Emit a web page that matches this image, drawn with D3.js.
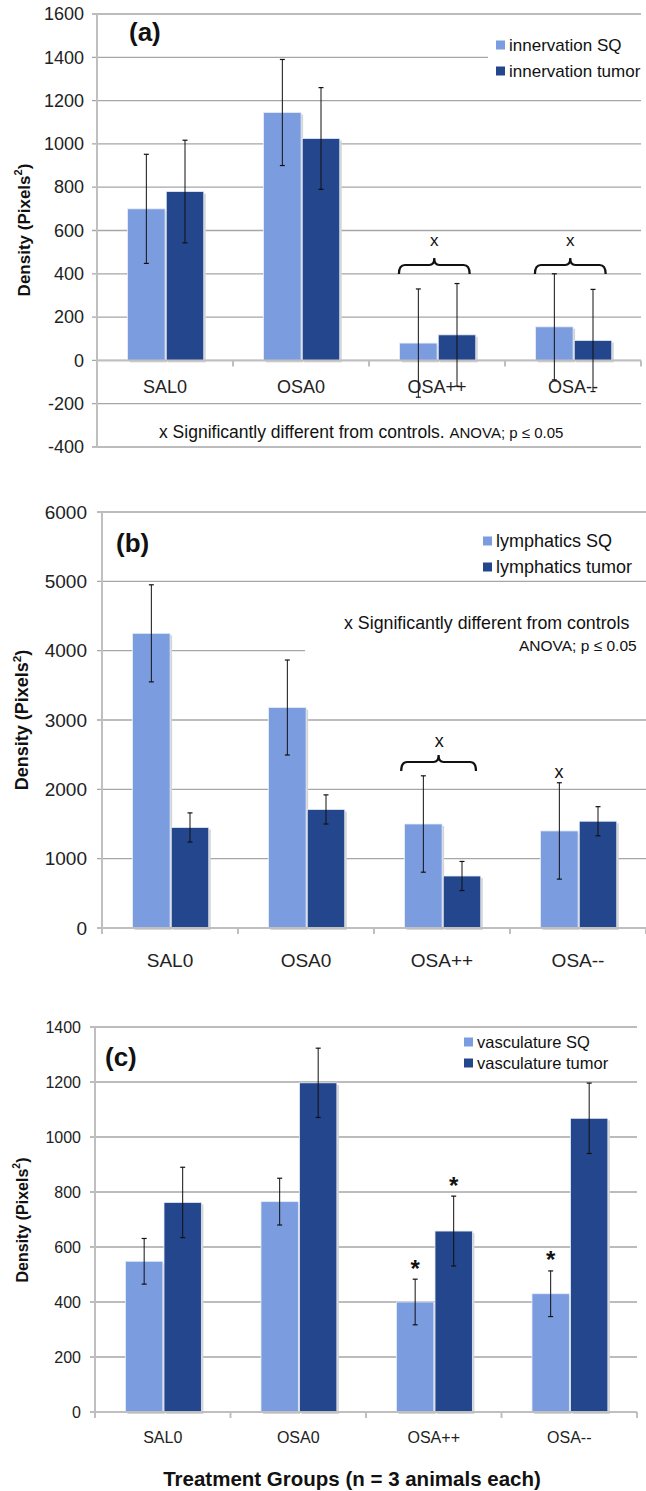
<head>
<meta charset="utf-8">
<style> body { margin: 0; background: #fff; } text { font-family: "Liberation Sans", Arial, sans-serif; } </style>
<script src="https://d3js.org/d3.v7.min.js"></script>
</head>
<body>
<div id="chart"></div>
<script>

var groups = ["SAL0", "OSA0", "OSA++", "OSA--"];

// (a) innervation
var innervSQ = [700, 1145, 80, 155],
    innervSQErr = [252, 245, 250, 245],
    innervTumor = [780, 1025, 118, 92],
    innervTumorErr = [237, 235, 237, 236];
var aTicks = [-400, -200, 0, 200, 400, 600, 800, 1000, 1200, 1400, 1600];

// (b) lymphatics
var lymphSQ = [4250, 3180, 1500, 1400],
    lymphSQErr = [700, 685, 695, 695],
    lymphTumor = [1450, 1710, 750, 1540],
    lymphTumorErr = [210, 210, 210, 210];
var bTicks = [0, 1000, 2000, 3000, 4000, 5000, 6000];

// (c) vasculature
var vascSQ = [548, 765, 400, 430],
    vascSQErr = [83, 85, 83, 83],
    vascTumor = [762, 1197, 658, 1068],
    vascTumorErr = [128, 126, 127, 128];
var cTicks = [0, 200, 400, 600, 800, 1000, 1200, 1400];

var colLight = "#7b9de0",
    colDark = "#24468c",
    gridCol = "#a6a6a6",
    axisCol = "#bfbfbf";

var W = 646, H = 1491;

var svg = d3.select("#chart").append("svg")
    .attr("width", W)
    .attr("height", H);

function drawPanel(p) {

    var g = svg.append("g");

    var x = d3.scaleBand().domain(groups).range([p.left, p.right]);
    var bw = x.bandwidth();
    var x1 = d3.scaleBand().domain([0, 1])
        .range([bw * 0.225, bw * 0.785]).paddingInner(0.03);

    var y = d3.scaleLinear().domain(p.domain).range(p.range);

    // grid
    g.append("g").selectAll("line")
        .data(p.ticks)
        .enter().append("line")
        .attr("x1", p.left - 5)
        .attr("x2", p.right)
        .attr("y1", d => y(d)).attr("y2", d => y(d))
        .attr("stroke", gridCol)
        .attr("stroke-width", 1.3);

    // white boxes covering the grid (legend / note)
    p.boxes.forEach(function(b) {
        g.append("rect")
            .attr("x", b[0]).attr("y", b[1])
            .attr("width", b[2]).attr("height", b[3])
            .attr("fill", "#fff");
    });

    // y axis
    var yax = g.append("g")
        .attr("transform", "translate(" + p.left + ",0)")
        .call(d3.axisLeft(y).tickValues(p.ticks).tickSize(0)
            .tickPadding(p.left - p.labelRight)
            .tickFormat(d => String(d)));
    yax.select("path").remove();
    yax.selectAll("text")
        .attr("font-size", p.tickFont)
        .attr("fill", "#222")
        .style("font-family", "Liberation Sans, Arial, sans-serif");

    g.append("line")
        .attr("x1", p.left).attr("x2", p.left)
        .attr("y1", p.range[1]).attr("y2", p.range[0])
        .attr("stroke", axisCol).attr("stroke-width", 2);

    var series = [
        {vals: p.sq, err: p.sqErr, col: colLight},
        {vals: p.tumor, err: p.tumorErr, col: colDark}
    ];

    // bars
    series.forEach(function(s, si) {
        var bars = g.append("g");
        bars.selectAll("rect.shadow")
            .data(s.vals)
            .enter().append("rect")
            .attr("class", "shadow")
            .attr("x", (d, i) => x(groups[i]) + x1(si) + 2)
            .attr("y", d => y(d) + 2)
            .attr("width", x1.bandwidth())
            .attr("height", d => y(0) - y(d))
            .attr("fill", "#d4d4d4");
        bars.selectAll("rect.bar")
            .data(s.vals)
            .enter().append("rect")
            .attr("class", "bar")
            .attr("x", (d, i) => x(groups[i]) + x1(si))
            .attr("y", d => y(d))
            .attr("width", x1.bandwidth())
            .attr("height", d => y(0) - y(d))
            .attr("fill", s.col)
            .attr("stroke", "#e6ecf7")
            .attr("stroke-width", 0.8);
    });

    // x axis at zero
    g.append("line")
        .attr("x1", p.left).attr("x2", p.right)
        .attr("y1", y(0)).attr("y2", y(0))
        .attr("stroke", axisCol).attr("stroke-width", 2);
    g.append("g").selectAll("line")
        .data(groups.concat(["end"]))
        .enter().append("line")
        .attr("x1", (d, i) => p.left + i * bw)
        .attr("x2", (d, i) => p.left + i * bw)
        .attr("y1", y(0)).attr("y2", y(0) + 6)
        .attr("stroke", axisCol).attr("stroke-width", 2);

    g.append("g").selectAll("text")
        .data(groups)
        .enter().append("text")
        .attr("x", d => x(d) + bw / 2)
        .attr("y", p.catY)
        .attr("text-anchor", "middle")
        .attr("dominant-baseline", "central")
        .attr("font-size", p.catFont)
        .attr("fill", "#222")
        .text(d => d);

    // error bars
    series.forEach(function(s, si) {
        var eb = g.append("g");
        s.vals.forEach(function(v, i) {
            var cx = x(groups[i]) + x1(si) + x1.bandwidth() / 2;
            var lo = y(v - s.err[i]), hi = y(v + s.err[i]);
            eb.append("line").attr("x1", cx).attr("x2", cx).attr("y1", lo).attr("y2", hi)
                .attr("stroke", "#111").attr("stroke-width", 1);
            [lo, hi].forEach(function(yy) {
                eb.append("line").attr("x1", cx - 2.5).attr("x2", cx + 2.5).attr("y1", yy).attr("y2", yy)
                    .attr("stroke", "#111").attr("stroke-width", 1.2);
            });
        });
    });

    // panel letter
    g.append("text")
        .attr("x", p.letter[0]).attr("y", p.letter[1])
        .attr("font-size", p.letterFont)
        .attr("font-weight", "bold")
        .attr("fill", "#111")
        .text(p.name);

    // y label
    var yl = g.append("text")
        .attr("transform", "translate(" + p.ylab[0] + "," + p.ylab[1] + ") rotate(-90)")
        .attr("text-anchor", "middle")
        .attr("dominant-baseline", "central")
        .attr("font-size", p.ylabFont)
        .attr("font-weight", "bold")
        .attr("fill", "#111");
    yl.append("tspan").text("Density (Pixels");
    yl.append("tspan").attr("font-size", p.ylabFont * 0.65).attr("dy", -p.ylabFont * 0.35).text("2");
    yl.append("tspan").attr("dy", p.ylabFont * 0.35).text(")");

    // legend
    p.legend.forEach(function(t, i) {
        var ly = p.legendY + i * p.legendStep;
        g.append("rect")
            .attr("x", p.legendX).attr("y", ly - 4.5)
            .attr("width", 9).attr("height", 9)
            .attr("fill", i == 0 ? colLight : colDark);
        g.append("text")
            .attr("x", p.legendX + 13).attr("y", ly)
            .attr("dominant-baseline", "central")
            .attr("font-size", p.legendFont)
            .attr("fill", "#111")
            .text(t);
    });

    return {g: g, x: x, x1: x1, y: y, bw: bw};
}

function bracket(g, xa, xb, yt) {
    var xm = (xa + xb) / 2;
    var d = "M" + xa + "," + (yt + 9) +
        " Q" + xa + "," + yt + " " + (xa + 6) + "," + yt +
        " L" + (xm - 5) + "," + yt +
        " Q" + xm + "," + yt + " " + xm + "," + (yt - 7) +
        " Q" + xm + "," + yt + " " + (xm + 5) + "," + yt +
        " L" + (xb - 6) + "," + yt +
        " Q" + xb + "," + yt + " " + xb + "," + (yt + 9);
    g.append("path").attr("d", d).attr("fill", "none")
        .attr("stroke", "#111").attr("stroke-width", 2.2);
}

function mark(g, xx, yy, t, size) {
    g.append("text").attr("x", xx).attr("y", yy)
        .attr("text-anchor", "middle")
        .attr("dominant-baseline", "central")
        .attr("font-size", size)
        .attr("font-weight", t == "*" ? "bold" : "normal")
        .attr("fill", "#111")
        .text(t);
}

// ---------- (a)
var A = drawPanel({
    name: "(a)", left: 97, right: 641, domain: [-400, 1600], range: [447, 14],
    ticks: aTicks, labelRight: 84, tickFont: 18,
    sq: innervSQ, sqErr: innervSQErr, tumor: innervTumor, tumorErr: innervTumorErr,
    catY: 387, catFont: 18,
    letter: [129, 41], letterFont: 26,
    ylab: [24, 230], ylabFont: 17,
    legend: ["innervation SQ", "innervation tumor"], legendX: 496, legendY: 45, legendStep: 26, legendFont: 17,
    boxes: [[488, 28, 160, 64]]
});
bracket(A.g, A.x("OSA++") + A.bw * 0.22, A.x("OSA++") + A.bw * 0.74, 265);
mark(A.g, A.x("OSA++") + A.bw * 0.48, 240, "x", 17);
bracket(A.g, A.x("OSA--") + A.bw * 0.22, A.x("OSA--") + A.bw * 0.74, 265);
mark(A.g, A.x("OSA--") + A.bw * 0.48, 240, "x", 17);

var noteA = A.g.append("text").attr("x", 159).attr("y", 432)
    .attr("dominant-baseline", "central").attr("fill", "#111").attr("font-size", 17.5);
noteA.append("tspan").text("x  Significantly different from controls. ");
noteA.append("tspan").attr("font-size", 15).text("ANOVA; p \u2264 0.05");

// ---------- (b)
var B = drawPanel({
    name: "(b)", left: 102, right: 646, domain: [0, 6000], range: [928, 512],
    ticks: bTicks, labelRight: 87, tickFont: 19,
    sq: lymphSQ, sqErr: lymphSQErr, tumor: lymphTumor, tumorErr: lymphTumorErr,
    catY: 960, catFont: 19,
    letter: [116, 552], letterFont: 26,
    ylab: [22, 720], ylabFont: 18,
    legend: ["lymphatics SQ", "lymphatics tumor"], legendX: 483, legendY: 541, legendStep: 26, legendFont: 18,
    boxes: [[470, 524, 180, 54], [305, 605, 345, 90]]
});
bracket(B.g, B.x("OSA++") + B.bw * 0.2, B.x("OSA++") + B.bw * 0.75, 762);
mark(B.g, B.x("OSA++") + B.bw * 0.48, 741, "x", 18);
mark(B.g, B.x("OSA--") + B.bw * 0.36, 772, "x", 18);

B.g.append("text").attr("x", 344).attr("y", 623)
    .attr("dominant-baseline", "central").attr("fill", "#111").attr("font-size", 17.8)
    .text("x  Significantly different from controls");
B.g.append("text").attr("x", 519).attr("y", 645)
    .attr("dominant-baseline", "central").attr("fill", "#111").attr("font-size", 15.5)
    .text("ANOVA; p \u2264 0.05");

// ---------- (c)
var C = drawPanel({
    name: "(c)", left: 95, right: 637, domain: [0, 1400], range: [1412, 1027],
    ticks: cTicks, labelRight: 81, tickFont: 16,
    sq: vascSQ, sqErr: vascSQErr, tumor: vascTumor, tumorErr: vascTumorErr,
    catY: 1437, catFont: 16,
    letter: [105, 1066], letterFont: 26,
    ylab: [22, 1220], ylabFont: 16,
    legend: ["vasculature SQ", "vasculature tumor"], legendX: 464, legendY: 1042, legendStep: 21, legendFont: 16.5,
    boxes: [[455, 1030, 185, 46]]
});
[[2, 0], [2, 1], [3, 0]].forEach(function(s) {
    var vals = s[1] == 0 ? vascSQ : vascTumor,
        errs = s[1] == 0 ? vascSQErr : vascTumorErr;
    var cx = C.x(groups[s[0]]) + C.x1(s[1]) + C.x1.bandwidth() / 2;
    mark(C.g, cx, C.y(vals[s[0]] + errs[s[0]]) - 11, "*", 24);
});

svg.append("text")
    .attr("x", 352).attr("y", 1478)
    .attr("text-anchor", "middle")
    .attr("dominant-baseline", "central")
    .attr("font-size", 20.5)
    .attr("font-weight", "bold")
    .attr("fill", "#111")
    .text("Treatment Groups (n = 3 animals each)");

</script>
</body>
